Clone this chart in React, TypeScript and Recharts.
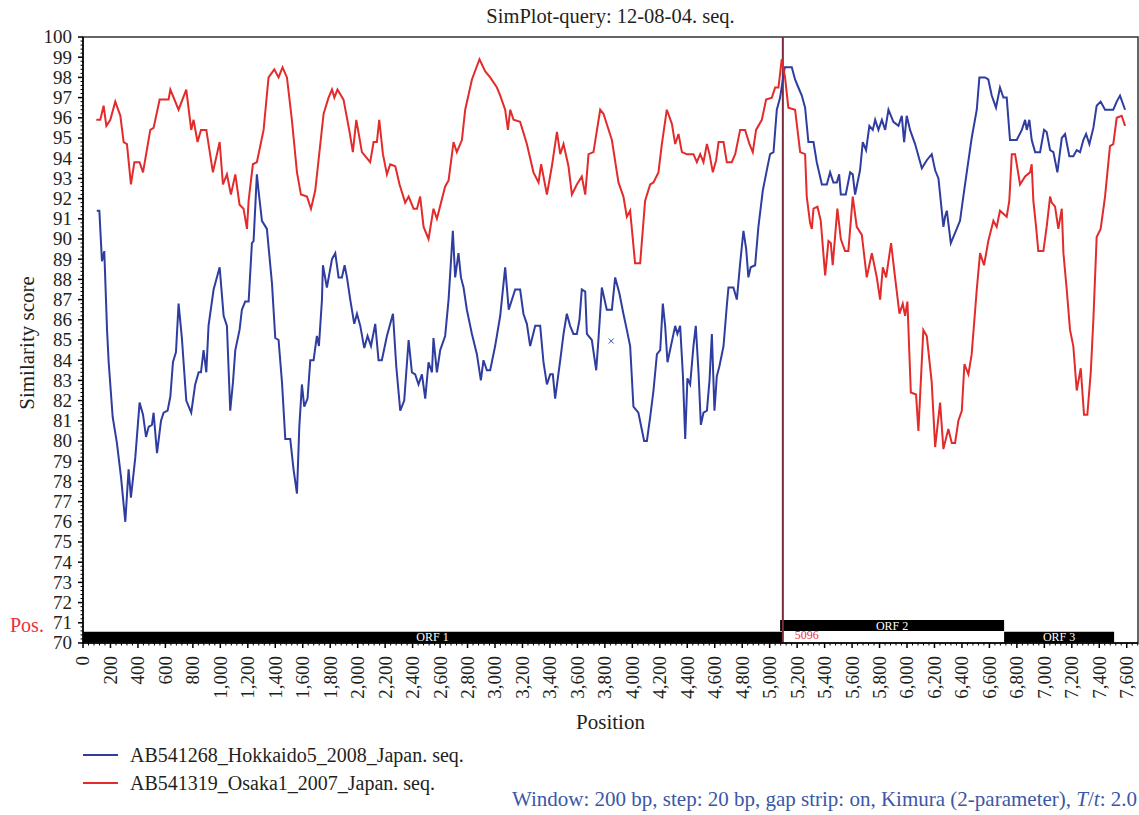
import React from 'react';
import { ComposedChart, Line, Scatter, XAxis, YAxis, ReferenceArea, ReferenceLine } from 'recharts';

// similarity values (window 200, step 20)
const bluePos = [100, 119, 138, 155, 175, 187, 216, 247, 277, 308, 332, 349, 381, 412, 437, 459, 478, 502, 514, 539, 568, 587, 616, 636, 655, 677, 696, 720, 752, 788, 817, 842, 859, 878, 898, 914, 951, 995, 1024, 1048, 1072, 1092, 1109, 1140, 1157, 1181, 1206, 1230, 1242, 1266, 1278, 1303, 1339, 1376, 1400, 1424, 1449, 1473, 1509, 1533, 1558, 1575, 1594, 1611, 1635, 1655, 1679, 1703, 1718, 1740, 1747, 1776, 1813, 1837, 1861, 1885, 1905, 1922, 1946, 1958, 1975, 1995, 2019, 2048, 2072, 2097, 2128, 2152, 2176, 2213, 2257, 2281, 2310, 2339, 2371, 2395, 2419, 2443, 2468, 2492, 2516, 2541, 2552, 2577, 2601, 2637, 2662, 2693, 2710, 2734, 2752, 2771, 2795, 2832, 2868, 2897, 2916, 2941, 2965, 3001, 3038, 3074, 3100, 3147, 3183, 3207, 3232, 3256, 3293, 3329, 3353, 3378, 3402, 3421, 3438, 3475, 3499, 3523, 3547, 3571, 3596, 3615, 3632, 3657, 3669, 3705, 3737, 3753, 3778, 3814, 3851, 3875, 3906, 3935, 3960, 3984, 4008, 4044, 4086, 4106, 4130, 4154, 4179, 4203, 4222, 4239, 4256, 4281, 4312, 4328, 4348, 4368, 4385, 4401, 4421, 4445, 4462, 4482, 4499, 4518, 4543, 4562, 4579, 4598, 4615, 4634, 4664, 4688, 4700, 4736, 4761, 4785, 4809, 4829, 4845, 4862, 4894, 4918, 4950, 4979, 5003, 5028, 5052, 5076, 5096, 5110, 5161, 5185, 5209, 5234, 5258, 5282, 5319, 5343, 5380, 5416, 5440, 5464, 5489, 5506, 5518, 5554, 5586, 5605, 5622, 5658, 5678, 5702, 5726, 5751, 5768, 5792, 5817, 5841, 5865, 5901, 5938, 5962, 5979, 5998, 6022, 6059, 6108, 6144, 6180, 6205, 6229, 6253, 6265, 6277, 6290, 6319, 6350, 6386, 6406, 6435, 6471, 6508, 6527, 6568, 6592, 6617, 6648, 6677, 6702, 6726, 6750, 6799, 6836, 6860, 6872, 6891, 6908, 6933, 6969, 6998, 7017, 7042, 7066, 7095, 7127, 7151, 7182, 7211, 7236, 7260, 7284, 7304, 7328, 7357, 7381, 7410, 7442, 7466, 7502, 7527, 7551, 7588];
const blueScore = [91.4, 91.4, 88.9, 89.4, 85.5, 83.9, 81.2, 79.9, 78.2, 76.0, 78.6, 77.2, 79.2, 81.9, 81.3, 80.2, 80.7, 80.8, 81.4, 79.4, 81.0, 81.4, 81.5, 82.2, 83.9, 84.4, 86.8, 85.1, 82.0, 81.4, 82.8, 83.4, 83.4, 84.5, 83.4, 85.7, 87.5, 88.6, 86.2, 85.7, 81.5, 82.9, 84.5, 85.5, 86.5, 86.9, 86.9, 89.8, 89.9, 93.2, 92.4, 90.9, 90.5, 87.8, 85.1, 85.0, 82.9, 80.1, 80.1, 78.6, 77.4, 80.7, 82.8, 81.7, 82.1, 84.0, 84.0, 85.2, 84.7, 87.0, 88.7, 87.6, 89.0, 89.3, 88.1, 88.1, 88.7, 88.1, 87.0, 86.5, 85.8, 86.3, 85.7, 84.6, 85.2, 84.7, 85.8, 84.0, 84.0, 85.2, 86.3, 83.7, 81.5, 82.0, 85.0, 83.4, 83.3, 82.8, 83.3, 82.1, 83.9, 83.4, 85.1, 83.4, 84.5, 85.2, 87.0, 90.4, 88.1, 89.3, 88.1, 87.6, 86.5, 85.3, 84.3, 83.0, 84.0, 83.5, 83.5, 84.7, 86.2, 88.6, 86.5, 87.5, 87.5, 86.3, 85.8, 84.7, 85.7, 85.7, 83.9, 82.8, 83.3, 83.3, 82.1, 84.0, 85.3, 86.3, 85.7, 85.3, 85.3, 86.0, 87.5, 87.4, 85.3, 85.0, 83.5, 85.0, 87.6, 86.5, 86.5, 88.1, 87.3, 86.3, 85.5, 84.7, 81.7, 81.4, 80.0, 80.0, 81.2, 82.5, 84.3, 84.5, 86.8, 85.7, 83.9, 84.7, 85.7, 85.3, 85.7, 83.3, 80.1, 83.1, 82.8, 84.7, 85.7, 83.4, 80.8, 81.4, 81.5, 83.0, 85.3, 81.5, 83.2, 83.7, 84.7, 86.7, 87.6, 87.6, 87.0, 88.8, 90.4, 89.5, 88.1, 88.6, 88.7, 90.6, 92.4, 93.4, 94.2, 94.3, 96.4, 97.0, 97.9, 98.5, 98.5, 97.9, 97.5, 97.1, 96.5, 94.8, 94.8, 93.8, 92.7, 92.7, 93.3, 92.8, 92.8, 93.2, 92.2, 92.2, 93.3, 93.2, 92.2, 93.4, 94.8, 94.4, 95.6, 95.4, 95.9, 95.4, 95.9, 95.4, 96.4, 95.8, 95.6, 96.1, 94.8, 96.1, 95.4, 94.7, 93.5, 93.9, 94.2, 93.4, 93.0, 91.4, 90.6, 91.1, 91.4, 89.8, 90.3, 90.9, 91.9, 93.3, 95.0, 96.4, 98.0, 98.0, 97.9, 97.1, 96.5, 97.5, 97.0, 97.0, 94.9, 94.9, 95.4, 95.9, 95.4, 95.9, 94.9, 94.3, 94.3, 95.4, 95.3, 94.4, 94.3, 93.3, 95.0, 95.2, 94.1, 94.1, 94.4, 94.3, 94.9, 95.2, 94.7, 95.5, 96.6, 96.8, 96.4, 96.4, 96.4, 96.8, 97.1, 96.4];

const redPos = [97, 126, 150, 170, 199, 235, 272, 296, 320, 349, 374, 412, 437, 490, 514, 558, 623, 636, 696, 752, 788, 805, 834, 859, 898, 946, 995, 1019, 1048, 1077, 1109, 1140, 1169, 1194, 1206, 1237, 1266, 1315, 1351, 1393, 1424, 1453, 1485, 1521, 1558, 1587, 1631, 1660, 1691, 1752, 1788, 1813, 1830, 1853, 1897, 1941, 1965, 1990, 2031, 2091, 2116, 2140, 2157, 2184, 2213, 2237, 2274, 2305, 2346, 2371, 2407, 2432, 2455, 2480, 2516, 2552, 2577, 2637, 2662, 2698, 2722, 2759, 2783, 2832, 2887, 2929, 2965, 3014, 3038, 3074, 3094, 3111, 3135, 3183, 3232, 3280, 3317, 3336, 3378, 3414, 3451, 3475, 3499, 3535, 3560, 3596, 3632, 3657, 3681, 3717, 3766, 3790, 3851, 3899, 3935, 3960, 3984, 4020, 4057, 4093, 4130, 4154, 4190, 4215, 4251, 4288, 4312, 4336, 4361, 4397, 4445, 4470, 4494, 4518, 4543, 4562, 4586, 4610, 4628, 4664, 4688, 4724, 4749, 4785, 4821, 4853, 4877, 4901, 4943, 4974, 5016, 5040, 5064, 5088, 5112, 5136, 5185, 5222, 5258, 5270, 5294, 5307, 5319, 5348, 5372, 5404, 5428, 5445, 5459, 5493, 5518, 5549, 5573, 5605, 5634, 5671, 5707, 5744, 5780, 5804, 5824, 5848, 5884, 5913, 5945, 5969, 5986, 6003, 6028, 6066, 6083, 6119, 6144, 6180, 6205, 6241, 6265, 6301, 6326, 6350, 6374, 6399, 6418, 6447, 6471, 6508, 6532, 6561, 6592, 6629, 6653, 6677, 6726, 6745, 6763, 6787, 6823, 6860, 6896, 6908, 6920, 6940, 6956, 6993, 7017, 7042, 7054, 7078, 7102, 7127, 7139, 7163, 7187, 7211, 7236, 7265, 7289, 7313, 7338, 7357, 7381, 7410, 7442, 7478, 7502, 7527, 7563, 7588];
const redScore = [95.9, 95.9, 96.6, 95.6, 95.9, 96.8, 96.1, 94.8, 94.7, 92.7, 93.8, 93.8, 93.3, 95.4, 95.5, 96.9, 96.9, 97.4, 96.4, 97.4, 95.4, 95.9, 94.8, 95.4, 95.4, 93.3, 94.8, 92.7, 93.2, 92.2, 93.2, 91.7, 91.5, 90.5, 91.9, 93.7, 93.8, 95.4, 98.0, 98.4, 98.0, 98.5, 98.0, 95.9, 93.3, 92.2, 92.1, 91.5, 92.4, 96.2, 97.0, 97.4, 97.0, 97.4, 96.9, 95.3, 94.3, 95.9, 94.3, 93.8, 94.8, 94.8, 95.9, 94.2, 93.2, 93.7, 93.6, 92.7, 91.8, 92.1, 91.5, 91.5, 92.1, 90.6, 90.0, 91.5, 91.0, 92.6, 92.9, 94.8, 94.3, 94.9, 96.4, 97.9, 98.9, 98.3, 98.0, 97.5, 97.1, 96.4, 95.4, 96.4, 95.9, 95.8, 94.7, 93.3, 92.8, 93.7, 92.2, 93.6, 95.3, 94.2, 94.7, 93.6, 92.2, 92.7, 93.1, 92.2, 94.2, 94.3, 96.4, 96.2, 94.9, 92.8, 92.1, 91.1, 91.4, 88.8, 88.8, 91.9, 92.7, 92.8, 93.3, 94.7, 96.4, 95.7, 94.7, 95.2, 94.3, 94.2, 94.2, 93.8, 94.2, 93.8, 94.7, 94.2, 93.3, 93.9, 94.8, 94.8, 93.8, 93.8, 94.2, 95.4, 95.4, 94.7, 94.3, 95.4, 95.9, 96.9, 97.0, 97.5, 97.5, 98.9, 98.0, 96.5, 96.4, 94.3, 94.2, 92.1, 90.8, 90.5, 91.5, 91.6, 90.9, 88.2, 89.9, 89.8, 88.7, 91.5, 90.0, 89.4, 89.4, 92.1, 90.6, 90.2, 88.1, 89.3, 88.1, 87.0, 88.6, 88.1, 89.8, 88.1, 86.3, 86.8, 86.2, 86.9, 82.4, 82.3, 80.5, 85.5, 85.2, 82.9, 79.7, 81.9, 79.6, 80.6, 79.9, 79.9, 81.0, 81.5, 83.8, 83.3, 84.3, 87.5, 89.3, 88.7, 89.9, 90.9, 90.6, 91.4, 91.1, 91.9, 94.2, 94.2, 92.7, 93.1, 93.3, 93.7, 91.9, 90.6, 89.4, 89.4, 90.6, 92.1, 91.8, 91.6, 90.5, 91.5, 89.3, 87.5, 85.5, 84.7, 82.5, 83.6, 81.3, 81.3, 83.4, 86.0, 90.1, 90.5, 92.1, 94.6, 94.7, 96.0, 96.1, 95.6];

const xTicks = [0, 200, 400, 600, 800, 1000, 1200, 1400, 1600, 1800, 2000, 2200, 2400, 2600, 2800, 3000, 3200, 3400, 3600, 3800, 4000, 4200, 4400, 4600, 4800, 5000, 5200, 5400, 5600, 5800, 6000, 6200, 6400, 6600, 6800, 7000, 7200, 7400, 7600];
const yTicks = [70, 71, 72, 73, 74, 75, 76, 77, 78, 79, 80, 81, 82, 83, 84, 85, 86, 87, 88, 89, 90, 91, 92, 93, 94, 95, 96, 97, 98, 99, 100];

// genome map strip under the plot
const orfNames = ['ORF 1', 'ORF 2', 'ORF 3'];
const orfStart = [0, 5076, 6707];
const orfEnd = [5090, 6707, 7508];
const orfLow = [70.03, 70.6, 70.03];
const orfHigh = [70.56, 71.14, 70.56];

const breakpoint = 5096;
const strayMark = [{ pos: 3846, score: 84.95 }];

const X_MAX = 7682;
const TICK_SIZE = 5;
const TICK_MARGIN = 8;

// minor ticks every 40 bp and 0.2 %
const xAllTicks = Array.from({ length: 193 }, (_, i) => i * 40);
const yAllTicks = Array.from({ length: 151 }, (_, i) => +(70 + i * 0.2).toFixed(1));

const blueData = bluePos.map((p, i) => ({ pos: p, score: blueScore[i] }));
const redData = redPos.map((p, i) => ({ pos: p, score: redScore[i] }));

const BLUE = '#2e3d9f';
const RED = '#e32b2b';
const FONT = '"Liberation Serif", "Times New Roman", serif';

const XTick = ({ x, y, payload }: any) => {
  const v = payload.value;
  const major = xTicks.includes(v);
  const axisY = y - TICK_SIZE - TICK_MARGIN;
  return (
    <g>
      <line x1={x} x2={x} y1={axisY} y2={axisY + (major ? 5 : 2.5)} stroke="#000" strokeWidth={major ? 1.5 : 1} />
      {major && (
        <text transform={`rotate(-90 ${x} ${y})`} x={x} y={y} dy="0.34em" textAnchor="end" fontSize={19} fill="#231f20" fontFamily={FONT}>
          {v.toLocaleString('en-US')}
        </text>
      )}
    </g>
  );
};

const YTick = ({ x, y, payload }: any) => {
  const v = payload.value;
  const major = yTicks.includes(v);
  const axisX = x + TICK_SIZE + TICK_MARGIN - 2;
  return (
    <g>
      <line x1={axisX} x2={axisX - (major ? 5 : 2.5)} y1={y} y2={y} stroke="#000" strokeWidth={major ? 1.5 : 1} />
      {major && (
        <text x={x} y={y} dy="0.34em" textAnchor="end" fontSize={19} fill="#231f20" fontFamily={FONT}>
          {v}
        </text>
      )}
    </g>
  );
};

const CrossMark = (p: any) => (
  <path d={`M${p.cx - 2.5},${p.cy - 2.5}L${p.cx + 2.5},${p.cy + 2.5}M${p.cx - 2.5},${p.cy + 2.5}L${p.cx + 2.5},${p.cy - 2.5}`} stroke="#3a55c0" strokeWidth={1} />
);

const BreakLabel = (props: any) => {
  const vb = props.viewBox;
  return (
    <text x={vb.x + 12} y={vb.y + vb.height - 4} fontSize={12} fill="#e8333a" fontFamily={FONT}>
      {breakpoint}
    </text>
  );
};

export default function App() {
  return (
    <div style={{ position: 'absolute', left: 0, top: 0, width: 1139, height: 815, background: '#fff', fontFamily: FONT, color: '#231f20' }}>
      <div style={{ position: 'absolute', left: 83, width: 1055, top: 5, textAlign: 'center', fontSize: 20.5 }}>
        SimPlot-query: 12-08-04. seq.
      </div>
      <ComposedChart width={1139} height={815} margin={{ top: 37, right: 1, left: 0, bottom: 0 }}>
        <XAxis
          type="number"
          dataKey="pos"
          domain={[0, X_MAX]}
          ticks={xAllTicks}
          interval={0}
          tick={<XTick />}
          tickLine={false}
          tickSize={TICK_SIZE}
          tickMargin={TICK_MARGIN}
          axisLine={{ stroke: '#000', strokeWidth: 1.5 }}
          height={172}
        />
        <YAxis
          type="number"
          dataKey="score"
          domain={[70, 100]}
          ticks={yAllTicks}
          interval={0}
          tick={<YTick />}
          tickLine={false}
          tickSize={TICK_SIZE}
          tickMargin={TICK_MARGIN - 2}
          axisLine={{ stroke: '#000', strokeWidth: 1.5 }}
          width={83}
        />
        <ReferenceArea x1={0} x2={X_MAX} y1={70} y2={100} fill="none" fillOpacity={0} stroke="#333" strokeWidth={1.5} />
        {orfNames.map((name, i) => (
          <ReferenceArea
            key={name}
            x1={orfStart[i]}
            x2={orfEnd[i]}
            y1={orfLow[i]}
            y2={orfHigh[i]}
            fill="#000"
            fillOpacity={1}
            stroke="none"
            label={{ value: name, position: 'center', fill: '#fff', fontSize: 12, fontFamily: FONT }}
          />
        ))}
        <ReferenceLine x={breakpoint} stroke="#7b2b3b" strokeWidth={2} label={<BreakLabel />} />
        <Line data={blueData} dataKey="score" type="linear" stroke={BLUE} strokeWidth={2} dot={false} isAnimationActive={false} />
        <Line data={redData} dataKey="score" type="linear" stroke={RED} strokeWidth={2} dot={false} isAnimationActive={false} />
        <Scatter data={strayMark} dataKey="score" shape={<CrossMark />} isAnimationActive={false} />
      </ComposedChart>
      <div style={{ position: 'absolute', left: 27, top: 343, transform: 'translate(-50%, -50%) rotate(-90deg)', fontSize: 21, whiteSpace: 'nowrap' }}>
        Similarity score
      </div>
      <div style={{ position: 'absolute', left: 10, top: 614, fontSize: 20, color: '#e8333a' }}>Pos.</div>
      <div style={{ position: 'absolute', left: 83, width: 1055, top: 710, textAlign: 'center', fontSize: 21 }}>Position</div>
      <div style={{ position: 'absolute', left: 83, top: 741, fontSize: 20, lineHeight: '28px' }}>
        <div style={{ display: 'flex', alignItems: 'center' }}>
          <span style={{ display: 'inline-block', width: 35, height: 2, background: BLUE, marginRight: 12 }} />
          AB541268_Hokkaido5_2008_Japan. seq.
        </div>
        <div style={{ display: 'flex', alignItems: 'center' }}>
          <span style={{ display: 'inline-block', width: 35, height: 2, background: RED, marginRight: 12 }} />
          AB541319_Osaka1_2007_Japan. seq.
        </div>
      </div>
      <div style={{ position: 'absolute', right: 2, top: 787, fontSize: 21, color: '#3a57a8', whiteSpace: 'nowrap' }}>
        Window: 200 bp, step: 20 bp, gap strip: on, Kimura (2-parameter), <i>T</i>/<i>t</i>: 2.0
      </div>
    </div>
  );
}
